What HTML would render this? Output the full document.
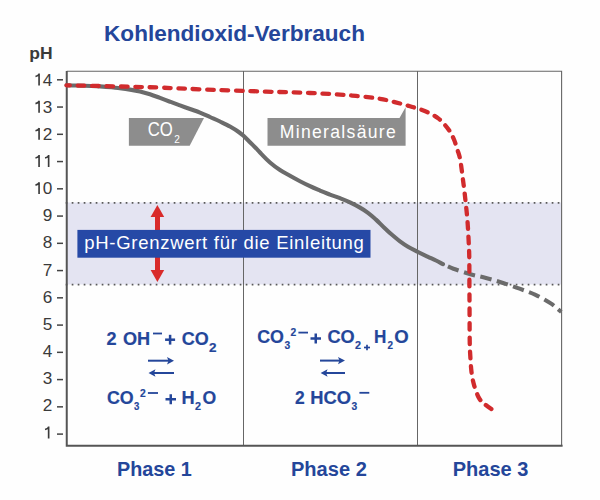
<!DOCTYPE html>
<html><head><meta charset="utf-8"><style>
html,body{margin:0;padding:0;background:#fefefe;}
svg{display:block;font-family:"Liberation Sans",sans-serif;}
</style></head><body>
<svg width="600" height="500" viewBox="0 0 600 500">
<rect width="600" height="500" fill="#fefefe"/>
<g font-size="17.2" fill="#3a3a3a"><rect x="57" y="433.35" width="6" height="1.5" fill="#444"/><text x="42.64" y="411.30">2</text><rect x="57" y="406.10" width="6" height="1.5" fill="#444"/><text x="42.64" y="384.15">3</text><rect x="57" y="378.84" width="6" height="1.5" fill="#444"/><text x="42.64" y="357.00">4</text><rect x="57" y="351.59" width="6" height="1.5" fill="#444"/><text x="42.64" y="329.85">5</text><rect x="57" y="324.34" width="6" height="1.5" fill="#444"/><text x="42.64" y="302.70">6</text><rect x="57" y="297.08" width="6" height="1.5" fill="#444"/><text x="42.64" y="275.55">7</text><rect x="57" y="269.83" width="6" height="1.5" fill="#444"/><text x="42.64" y="248.40">8</text><rect x="57" y="242.57" width="6" height="1.5" fill="#444"/><text x="42.64" y="221.25">9</text><rect x="57" y="215.32" width="6" height="1.5" fill="#444"/><text x="42.64" y="194.10">0</text><rect x="57" y="188.07" width="6" height="1.5" fill="#444"/><rect x="57" y="160.81" width="6" height="1.5" fill="#444"/><text x="42.64" y="139.80">2</text><rect x="57" y="133.56" width="6" height="1.5" fill="#444"/><text x="42.64" y="112.65">3</text><rect x="57" y="106.30" width="6" height="1.5" fill="#444"/><text x="42.64" y="85.50">4</text><rect x="57" y="79.05" width="6" height="1.5" fill="#444"/></g>
<g fill="none" stroke="#3a3a3a" stroke-width="1.65"><path d="M48.64,426.55 V438.45 M48.94,426.85 C47.64,428.75 46.44,429.15 45.04,429.45"/><path d="M39.07,182.20 V194.10 M39.37,182.50 C38.07,184.40 36.87,184.80 35.47,185.10"/><path d="M39.07,155.05 V166.95 M39.37,155.35 C38.07,157.25 36.87,157.65 35.47,157.95"/><path d="M48.64,155.05 V166.95 M48.94,155.35 C47.64,157.25 46.44,157.65 45.04,157.95"/><path d="M39.07,127.90 V139.80 M39.37,128.20 C38.07,130.10 36.87,130.50 35.47,130.80"/><path d="M39.07,100.75 V112.65 M39.37,101.05 C38.07,102.95 36.87,103.35 35.47,103.65"/><path d="M39.07,73.60 V85.50 M39.37,73.90 C38.07,75.80 36.87,76.20 35.47,76.50"/></g>
<rect x="66.5" y="202.5" width="495" height="82" fill="#e4e4f2"/>
<line x1="65.7" y1="202.9" x2="561" y2="202.9" stroke="#5a5a5a" stroke-width="1.7" stroke-dasharray="1.7 4.3"/>
<line x1="65.7" y1="284.6" x2="561" y2="284.6" stroke="#5a5a5a" stroke-width="1.7" stroke-dasharray="1.7 4.3"/>
<line x1="243.5" y1="71" x2="243.5" y2="445" stroke="#666" stroke-width="1"/>
<line x1="417.5" y1="71" x2="417.5" y2="445" stroke="#666" stroke-width="1"/>
<path d="M66.75,71.3 H561.6 V445.5" fill="none" stroke="#666" stroke-width="1.1"/>
<path d="M66.75,71 V445.75 H562.6" fill="none" stroke="#555" stroke-width="2"/>
<polygon points="128.9,118 204,118 189.7,145.7 128.9,145.7" fill="#8d8d8d"/>
<polygon points="267.5,118 399.5,118 405.6,107.2 405.6,145.7 267.5,145.7" fill="#8d8d8d"/>
<path d="M66.5,85.3 C72.1,85.5 91.9,86.0 100.0,86.4 C108.1,86.8 110.0,87.2 115.0,87.7 C120.0,88.2 125.8,89.0 130.0,89.6 C134.2,90.2 136.7,90.6 140.0,91.4 C143.3,92.2 146.7,93.1 150.0,94.2 C153.3,95.3 156.7,96.7 160.0,97.9 C163.3,99.2 166.7,100.5 170.0,101.7 C173.3,103.0 176.7,104.2 180.0,105.4 C183.3,106.6 186.7,107.8 190.0,109.0 C193.3,110.2 196.7,111.3 200.0,112.6 C203.3,113.9 206.7,115.5 210.0,117.0 C213.3,118.5 216.7,119.9 220.0,121.5 C223.3,123.1 227.0,124.8 230.0,126.5 C233.0,128.2 235.8,129.9 238.0,131.5 C240.2,133.1 241.5,134.0 243.5,135.8 C245.5,137.6 248.1,140.3 250.0,142.2 C251.9,144.1 253.3,145.5 255.0,147.2 C256.7,148.9 257.5,149.9 260.0,152.5 C262.5,155.1 266.7,159.6 270.0,162.5 C273.3,165.4 276.7,167.8 280.0,170.0 C283.3,172.2 286.7,173.9 290.0,175.8 C293.3,177.7 296.7,179.5 300.0,181.2 C303.3,182.9 306.7,184.6 310.0,186.2 C313.3,187.8 316.7,189.2 320.0,190.6 C323.3,192.0 326.7,193.3 330.0,194.6 C333.3,195.9 336.7,196.9 340.0,198.2 C343.3,199.5 346.7,200.8 350.0,202.4 C353.3,204.0 357.0,205.9 360.0,207.6 C363.0,209.3 365.3,210.8 368.0,212.8 C370.7,214.8 373.3,217.2 376.0,219.6 C378.7,222.0 381.3,224.9 384.0,227.4 C386.7,229.9 389.3,232.5 392.0,234.8 C394.7,237.1 397.3,239.4 400.0,241.4 C402.7,243.4 405.0,245.0 408.0,246.8 C411.0,248.6 414.7,250.3 418.0,252.0 C421.3,253.7 425.0,255.4 428.0,256.8 C431.0,258.2 433.5,259.3 436.0,260.5 C438.5,261.7 441.8,263.6 443.0,264.2" fill="none" stroke="#6b6b6b" stroke-width="4.1" stroke-linecap="round"/>
<path d="M443.0,264.2 C444.7,264.9 448.9,267.1 453.4,268.7 C457.8,270.3 464.3,272.4 469.7,274.0 C475.1,275.6 480.4,276.5 486.0,278.0 C491.6,279.5 497.4,281.2 503.0,283.0 C508.6,284.8 514.2,286.7 519.6,288.7 C525.0,290.7 530.3,292.4 535.5,294.8 C540.7,297.2 546.5,300.5 550.8,303.4 C555.1,306.3 559.5,310.6 561.3,312.0" fill="none" stroke="#6b6b6b" stroke-width="4.1" stroke-dasharray="11.5 5.5" stroke-dashoffset="11.5"/>
<path d="M66.5,85.3 C75.4,85.5 104.4,86.1 120.0,86.5 C135.6,86.9 146.7,87.1 160.0,87.6 C173.3,88.1 182.3,88.6 200.0,89.3 C217.7,90.0 247.7,91.0 266.0,91.6 C284.3,92.2 297.7,92.5 310.0,93.0 C322.3,93.5 332.3,94.1 340.0,94.6 C347.7,95.1 351.0,95.4 356.0,95.9 C361.0,96.4 366.0,96.9 370.0,97.4 C374.0,97.9 376.7,98.2 380.0,98.8 C383.3,99.4 386.7,100.1 390.0,100.9 C393.3,101.7 396.7,102.6 400.0,103.5 C403.3,104.4 406.7,105.3 410.0,106.3 C413.3,107.3 416.7,108.1 420.0,109.3 C423.3,110.5 426.9,111.9 430.0,113.4 C433.1,114.9 435.8,116.5 438.3,118.4 C440.8,120.3 443.1,122.8 445.0,125.0 C446.9,127.2 448.5,129.2 450.0,131.7 C451.5,134.2 452.9,136.9 454.2,140.0 C455.4,143.1 456.5,146.7 457.5,150.0 C458.5,153.3 459.4,155.0 460.3,160.0 C461.2,165.0 462.1,173.3 463.0,180.0 C463.9,186.7 464.7,193.3 465.4,200.0 C466.1,206.7 466.9,213.3 467.4,220.0 C467.9,226.7 468.3,233.3 468.6,240.0 C468.9,246.7 469.2,250.0 469.3,260.0 C469.4,270.0 469.4,286.7 469.5,300.0 C469.6,313.3 469.6,330.7 469.7,340.0 C469.8,349.3 470.0,350.7 470.3,356.0 C470.6,361.3 470.9,367.2 471.5,372.0 C472.1,376.8 472.8,380.5 474.0,384.8 C475.2,389.1 477.1,394.5 478.8,397.6 C480.5,400.7 481.6,401.5 484.0,403.6 C486.4,405.7 491.7,409.3 493.2,410.4" fill="none" stroke="#d12b2d" stroke-width="4.3" stroke-dasharray="6.6 7.8" stroke-dashoffset="3.2" stroke-linecap="round"/>
<g fill="#d92b2b">
<polygon points="157.4,205 164.2,217 150.6,217"/>
<rect x="155" y="216" width="5" height="56"/>
<polygon points="157.4,282 164.2,270 150.6,270"/>
</g>
<rect x="77.4" y="229.9" width="293.1" height="27.8" fill="#2649a6"/>
<g fill="#24469a">
<rect x="148" y="359.7" width="22" height="2"/><polygon points="174,360.7 167,357.0 168.5,360.7 167,364.4"/><rect x="152.5" y="372" width="21.5" height="2"/><polygon points="148.5,373 155.5,369.3 154.0,373 155.5,376.7"/><rect x="320" y="359.6" width="21" height="2"/><polygon points="345,360.6 338,356.90000000000003 339.5,360.6 338,364.3"/><rect x="324.6" y="372" width="20.399999999999977" height="2"/><polygon points="320.6,373 327.6,369.3 326.1,373 327.6,376.7"/>
<rect x="153" y="332.6" width="9.0" height="1.8" fill="#24469a"/><rect x="147.9" y="392.1" width="10.1" height="1.8" fill="#24469a"/><rect x="298.4" y="331.7" width="9.6" height="1.8" fill="#24469a"/><rect x="359.4" y="391.9" width="9.9" height="1.8" fill="#24469a"/><rect x="165.10" y="338.45" width="10" height="2.5"/><rect x="168.85" y="334.80" width="2.5" height="9.8"/><rect x="165.50" y="398.00" width="10.5" height="2.5"/><rect x="169.50" y="394.25" width="2.5" height="10"/><rect x="310.50" y="337.25" width="10.5" height="2.5"/><rect x="314.50" y="333.50" width="2.5" height="10"/><rect x="364.00" y="346.65" width="6" height="1.7"/><rect x="366.15" y="344.75" width="1.7" height="5.5"/>
</g>
<text transform="translate(104.07,41.00) scale(1.0268,1.0)" font-size="22" font-weight="bold" fill="#24469a">Kohlendioxid-Verbrauch</text>
<text transform="translate(29.34,58.70) scale(1.0608,1.0)" font-size="16.5" font-weight="bold" fill="#3a3a3a">pH</text>
<text transform="translate(279.70,137.75) scale(1.0000,1)" font-size="17.6" letter-spacing="1.308" fill="#fff">Mineralsäure</text>
<text transform="translate(147.70,136.20) scale(0.8596,1.0)" font-size="19.5" fill="#fff">CO</text>
<text transform="translate(174.30,142.80) scale(0.9333,1.0)" font-size="10.8" fill="#fff">2</text>
<text transform="translate(84.20,248.80) scale(1.0000,1)" font-size="18.5" letter-spacing="0.720" fill="#fff">pH-Grenzwert für die Einleitung</text>
<text transform="translate(117.01,475.80) scale(0.9895,1.0)" font-size="20" font-weight="bold" fill="#24469a">Phase 1</text>
<text transform="translate(291.00,475.80) scale(1.0029,1.0)" font-size="20" font-weight="bold" fill="#24469a">Phase 2</text>
<text transform="translate(452.70,475.80) scale(1.0016,1.0)" font-size="20" font-weight="bold" fill="#24469a">Phase 3</text>
<text transform="translate(106.50,344.50) scale(0.9500,1.0)" font-size="19" font-weight="bold" fill="#24469a" stroke="#24469a" stroke-width="0.2">2</text>
<text transform="translate(123.00,344.50) scale(0.9540,1.0)" font-size="19" font-weight="bold" fill="#24469a" stroke="#24469a" stroke-width="0.2">OH</text>
<text transform="translate(181.80,344.50) scale(0.9451,1.0)" font-size="19" font-weight="bold" fill="#24469a" stroke="#24469a" stroke-width="0.2">CO</text>
<text transform="translate(209.00,352.20) scale(1.0000,1.0)" font-size="13.5" font-weight="bold" fill="#24469a" stroke="#24469a" stroke-width="0.2">2</text>
<text transform="translate(107.00,404.00) scale(0.9379,1.0)" font-size="19" font-weight="bold" fill="#24469a" stroke="#24469a" stroke-width="0.2">CO</text>
<text transform="translate(133.90,410.10) scale(0.8833,1.0)" font-size="10.8" font-weight="bold" fill="#24469a" stroke="#24469a" stroke-width="0.2">3</text>
<text transform="translate(140.00,397.40) scale(0.9500,1.0)" font-size="10.8" font-weight="bold" fill="#24469a" stroke="#24469a" stroke-width="0.2">2</text>
<text transform="translate(181.54,404.00) scale(0.9583,1.0)" font-size="19" font-weight="bold" fill="#24469a" stroke="#24469a" stroke-width="0.2">H</text>
<text transform="translate(195.00,410.00) scale(1.0000,1.0)" font-size="10.8" font-weight="bold" fill="#24469a" stroke="#24469a" stroke-width="0.2">2</text>
<text transform="translate(202.50,404.00) scale(0.9286,1.0)" font-size="19" font-weight="bold" fill="#24469a" stroke="#24469a" stroke-width="0.2">O</text>
<text transform="translate(257.20,343.10) scale(0.9379,1.0)" font-size="19" font-weight="bold" fill="#24469a" stroke="#24469a" stroke-width="0.2">CO</text>
<text transform="translate(284.60,349.40) scale(0.9500,1.0)" font-size="10.8" font-weight="bold" fill="#24469a" stroke="#24469a" stroke-width="0.2">3</text>
<text transform="translate(290.50,336.40) scale(0.9500,1.0)" font-size="10.8" font-weight="bold" fill="#24469a" stroke="#24469a" stroke-width="0.2">2</text>
<text transform="translate(327.50,343.10) scale(0.9559,1.0)" font-size="19" font-weight="bold" fill="#24469a" stroke="#24469a" stroke-width="0.2">CO</text>
<text transform="translate(355.00,349.00) scale(1.0000,1.0)" font-size="10.8" font-weight="bold" fill="#24469a" stroke="#24469a" stroke-width="0.2">2</text>
<text transform="translate(374.10,343.10) scale(0.9000,1.0)" font-size="19" font-weight="bold" fill="#24469a" stroke="#24469a" stroke-width="0.2">H</text>
<text transform="translate(387.50,349.30) scale(0.9167,1.0)" font-size="10.8" font-weight="bold" fill="#24469a" stroke="#24469a" stroke-width="0.2">2</text>
<text transform="translate(394.20,343.10) scale(0.9786,1.0)" font-size="19" font-weight="bold" fill="#24469a" stroke="#24469a" stroke-width="0.2">O</text>
<text transform="translate(295.00,403.60) scale(0.9200,1.0)" font-size="19" font-weight="bold" fill="#24469a" stroke="#24469a" stroke-width="0.2">2</text>
<text transform="translate(310.24,403.60) scale(0.9643,1.0)" font-size="19" font-weight="bold" fill="#24469a" stroke="#24469a" stroke-width="0.2">HCO</text>
<text transform="translate(351.60,410.00) scale(0.9500,1.0)" font-size="10.8" font-weight="bold" fill="#24469a" stroke="#24469a" stroke-width="0.2">3</text>
</svg>
</body></html>
